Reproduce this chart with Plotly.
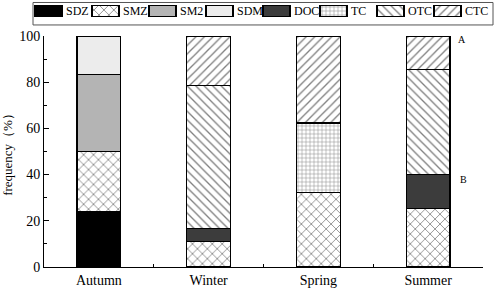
import plotly.graph_objects as go

seasons = ["Autumn", "Winter", "Spring", "Summer"]
SDZ = [24.0, None, None, None]
SMZ = [26.0, 11.0, 32.3, 25.4]
SM2 = [33.3, None, None, None]
SDM = [16.7, None, None, None]
DOC = [None, 5.5, None, 14.7]
TC = [None, None, 30.0, None]
OTC = [None, 62.0, None, 45.5]
CTC = [None, 21.5, 37.7, 14.4]

series = [
    ("SDZ", SDZ, "#000000", "", None),
    ("SMZ", SMZ, "#ffffff", "x", 7),
    ("SM2", SM2, "#b4b4b4", "", None),
    ("SDM", SDM, "#ececec", "", None),
    ("DOC", DOC, "#3c3c3c", "", None),
    ("TC", TC, "#ffffff", "+", 4),
    ("OTC", OTC, "#ffffff", "\\", 6),
    ("CTC", CTC, "#ffffff", "/", 6),
]

W, H = 498, 289
BOTTOM = 21.5
PH = H - BOTTOM  # plot-area height in px (margin t=0)


def px_y(py):
    return (PH - py) / PH


def marker_for(color, shape, size):
    m = dict(color=color, line=dict(color="#000000", width=1.2))
    if shape:
        m["pattern"] = dict(shape=shape, size=size, solidity=0.22,
                            fgcolor="#000000", bgcolor="#ffffff", fillmode="overlay")
    return m


fig = go.Figure()
for name, vals, color, shape, size in series:
    fig.add_trace(go.Bar(name=name, x=seasons, y=vals, width=0.4,
                         marker=marker_for(color, shape, size),
                         xaxis="x", yaxis="y", showlegend=False))

# legend built as a row of swatch bars on a helper axis
annotations = []
for i, (name, vals, color, shape, size) in enumerate(series):
    fig.add_trace(go.Bar(x=[i], y=[1], base=0, width=0.474,
                         marker=marker_for(color, shape, size),
                         xaxis="x2", yaxis="y2", showlegend=False, hoverinfo="skip"))
    annotations.append(dict(x=i + 0.28, y=0.5, xref="x2", yref="y2", text=name,
                            xanchor="left", yanchor="middle", showarrow=False,
                            font=dict(size=12)))

annotations += [
    dict(x=3.31, y=px_y(32), xref="x", yref="paper", text="A", showarrow=False,
         font=dict(size=10)),
    dict(x=3.32, y=37.8, xref="x", yref="y", text="B", showarrow=False,
         font=dict(size=10)),
]

pitch = 57.0
first_center = 48.5

fig.update_layout(
    barmode="stack",
    width=W, height=H,
    margin=dict(l=0, r=0, t=0, b=BOTTOM, autoexpand=False),
    plot_bgcolor="white", paper_bgcolor="white",
    font=dict(family="Liberation Serif", size=14, color="#000000"),
    showlegend=False,
    xaxis=dict(type="category", range=[-0.5, 3.5], domain=[44 / W, 483 / W],
               showline=True, linecolor="#000000", linewidth=1,
               ticks="inside", ticklen=3, tickson="boundaries",
               tickcolor="#000000", showgrid=False, zeroline=False, anchor="y"),
    yaxis=dict(range=[0, 100], domain=[0, px_y(36)], showline=True,
               linecolor="#000000", linewidth=1,
               ticks="inside", ticklen=5, tickcolor="#000000", dtick=20,
               minor=dict(ticks="inside", ticklen=3, dtick=10, tickcolor="#000000"),
               showgrid=False, zeroline=False, anchor="x",
               title=dict(text="frequency（%）", standoff=4, font=dict(size=13))),
    xaxis2=dict(range=[-first_center / pitch, (W - first_center) / pitch], domain=[0, 1],
                visible=False, anchor="y2"),
    yaxis2=dict(range=[0, 1], domain=[px_y(17), px_y(5)], visible=False, anchor="x2"),
    shapes=[dict(type="rect", xref="paper", yref="paper",
                 x0=33 / W, x1=493 / W, y0=px_y(25), y1=px_y(2.5),
                 line=dict(color="#555555", width=1), fillcolor="rgba(0,0,0,0)")],
    annotations=annotations,
)

fig.write_html(
    "out.html",
    config={"displayModeBar": False},
    post_script="document.body.style.margin='0';document.body.style.overflow='hidden';",
)
